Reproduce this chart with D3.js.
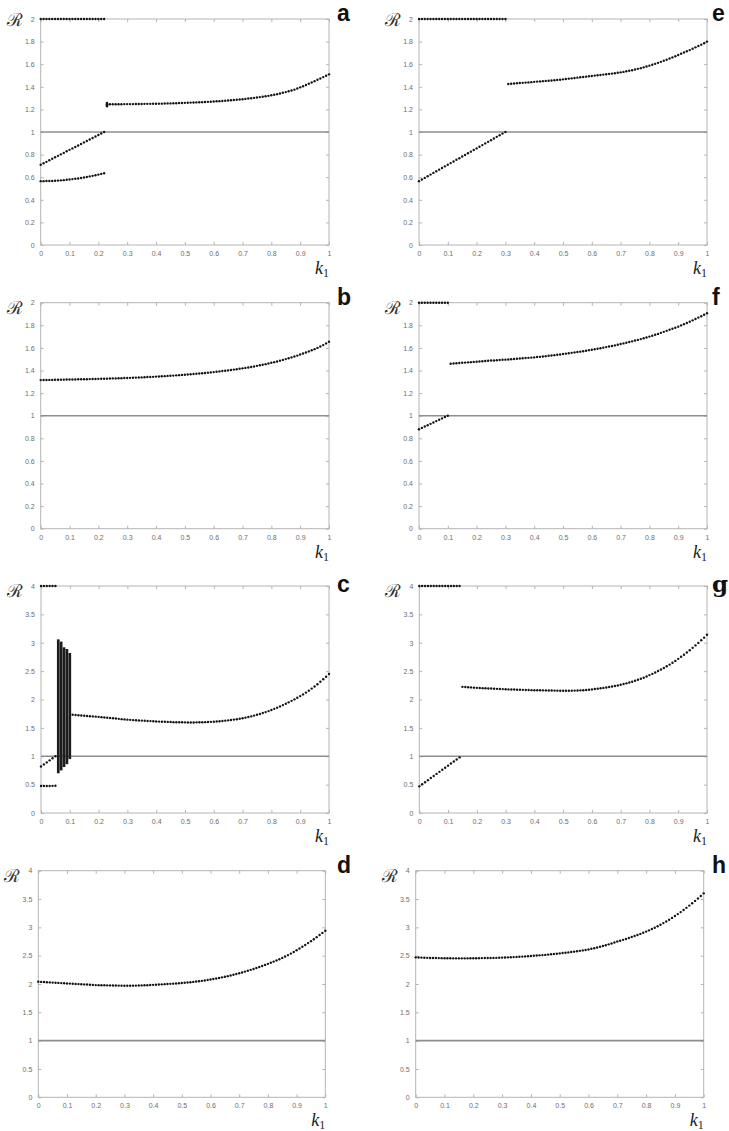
<!DOCTYPE html>
<html>
<head>
<meta charset="utf-8">
<script src="https://cdn.jsdelivr.net/npm/d3@7"></script>
<style>
  body { margin: 0; background: #fff; }
  svg { display: block; }
</style>
</head>
<body>
<script>
// k1 step between dots
var k1Step = 0.01;

var xTicks = [0, 0.1, 0.2, 0.3, 0.4, 0.5, 0.6, 0.7, 0.8, 0.9, 1];
var xTickLabels = ["0", "0.1", "0.2", "0.3", "0.4", "0.5", "0.6", "0.7", "0.8", "0.9", "1"];
var yTicks2 = [0, 0.2, 0.4, 0.6, 0.8, 1, 1.2, 1.4, 1.6, 1.8, 2];
var yTickLabels2 = ["0", "0.2", "0.4", "0.6", "0.8", "1", "1.2", "1.4", "1.6", "1.8", "2"];
var yTicks4 = [0, 0.5, 1, 1.5, 2, 2.5, 3, 3.5, 4];
var yTickLabels4 = ["0", "0.5", "1", "1.5", "2", "2.5", "3", "3.5", "4"];

// panel a  (each series starts at the k1 given in the name comment)
var a_top = [2,2,2,2,2,2,2,2,2,2,2,2,2,2,2,2,2,2,2,2,2,2,2];           // k1 0..0.22
var a_rise = [0.710,0.723,0.736,0.750,0.763,0.776,0.789,0.802,0.815,0.829,0.842,0.855,
  0.868,0.881,0.894,0.908,0.921,0.934,0.947,0.960,0.973,0.987,1.000];  // k1 0..0.22
var a_low = [0.565,0.565,0.566,0.566,0.567,0.569,0.570,0.572,0.574,0.577,0.579,0.583,
  0.586,0.589,0.593,0.598,0.602,0.607,0.612,0.617,0.623,0.629,0.635];  // k1 0..0.22
var a_jump = [1.228,1.236,1.244,1.252,1.258];                        // k1 0.23
var a_right = [1.245,1.245,1.245,1.246,1.246,1.246,1.247,1.247,
  1.247,1.247,1.248,1.248,1.248,1.249,1.249,1.249,1.250,1.250,
  1.251,1.251,1.252,1.253,1.253,1.254,1.255,1.256,1.257,1.258,
  1.259,1.260,1.261,1.262,1.263,1.264,1.265,1.267,1.268,1.270,
  1.272,1.273,1.275,1.277,1.279,1.281,1.283,1.285,1.288,1.290,
  1.293,1.296,1.299,1.302,1.305,1.309,1.312,1.316,1.320,1.325,
  1.330,1.335,1.341,1.347,1.353,1.360,1.367,1.375,1.385,1.395,
  1.405,1.416,1.427,1.438,1.450,1.462,1.474,1.486,1.498,1.510];     // k1 0.23..1

// panel b
var b_curve = [1.315,1.316,1.316,1.317,1.317,1.318,1.318,1.319,1.319,1.320,
  1.320,1.321,1.321,1.322,1.322,1.323,1.323,1.324,1.325,1.325,
  1.326,1.327,1.327,1.328,1.329,1.330,1.330,1.331,1.332,1.333,
  1.334,1.335,1.336,1.337,1.338,1.339,1.340,1.342,1.343,1.344,
  1.346,1.347,1.349,1.350,1.352,1.353,1.355,1.357,1.359,1.361,
  1.363,1.365,1.367,1.369,1.371,1.373,1.376,1.378,1.381,1.383,
  1.386,1.389,1.392,1.395,1.398,1.401,1.404,1.408,1.411,1.415,
  1.419,1.423,1.427,1.431,1.436,1.441,1.446,1.451,1.456,1.462,
  1.468,1.474,1.480,1.487,1.494,1.501,1.508,1.516,1.524,1.532,
  1.541,1.550,1.559,1.569,1.579,1.589,1.600,1.612,1.625,1.640,
  1.655];                                                            // k1 0..1

// panel c
var c_top = [4,4,4,4,4,4];                                           // k1 0..0.05
var c_rise = [0.820,0.856,0.892,0.928,0.964,1.000];                  // k1 0..0.05
var c_low = [0.475,0.475,0.476,0.477,0.478,0.480];                   // k1 0..0.05
var c_bandK = [0.06, 0.07, 0.08, 0.09, 0.10];
var c_bandMin = [0.70, 0.75, 0.81, 0.86, 0.95];
var c_bandMax = [3.06, 3.02, 2.92, 2.89, 2.82];
var c_right = [1.730,1.726,1.722,1.718,1.714,1.710,1.706,1.702,1.698,1.694,
  1.689,1.684,1.679,1.674,1.669,1.664,1.659,1.654,1.649,1.645,
  1.641,1.637,1.634,1.631,1.628,1.625,1.622,1.619,1.616,1.613,
  1.611,1.609,1.607,1.605,1.603,1.601,1.600,1.599,1.598,1.597,
  1.596,1.596,1.596,1.597,1.598,1.599,1.601,1.603,1.606,1.609,
  1.613,1.617,1.622,1.627,1.633,1.639,1.646,1.653,1.661,1.670,
  1.680,1.691,1.703,1.716,1.730,1.745,1.761,1.778,1.796,1.815,
  1.835,1.856,1.878,1.901,1.925,1.950,1.976,2.003,2.031,2.060,
  2.090,2.122,2.156,2.192,2.230,2.270,2.312,2.356,2.402,2.450];     // k1 0.11..1

// panel d
var d_curve = [2.040,2.037,2.034,2.031,2.028,2.025,2.022,2.019,2.016,2.013,
  2.010,2.007,2.004,2.001,1.998,1.995,1.993,1.990,1.987,1.984,
  1.981,1.980,1.978,1.977,1.976,1.975,1.974,1.973,1.972,1.971,
  1.970,1.970,1.970,1.971,1.972,1.973,1.975,1.977,1.979,1.982,
  1.985,1.988,1.991,1.994,1.997,2.000,2.003,2.006,2.009,2.013,
  2.017,2.021,2.026,2.031,2.037,2.043,2.049,2.056,2.063,2.071,
  2.079,2.088,2.097,2.107,2.117,2.128,2.139,2.151,2.163,2.176,
  2.190,2.204,2.219,2.234,2.250,2.266,2.283,2.300,2.318,2.337,
  2.356,2.375,2.395,2.416,2.438,2.461,2.485,2.510,2.537,2.566,
  2.596,2.626,2.657,2.689,2.722,2.756,2.791,2.827,2.864,2.902,
  2.941];                                                            // k1 0..1

// panel e
var e_top = [2,2,2,2,2,2,2,2,2,2,2,2,2,2,2,2,2,2,2,2,2,2,2,2,2,2,2,2,2,2,2]; // k1 0..0.30
var e_rise = [0.565,0.580,0.594,0.609,0.623,0.638,0.652,0.667,0.681,0.696,0.710,
  0.725,0.739,0.754,0.768,0.783,0.797,0.812,0.826,0.841,0.855,
  0.870,0.884,0.899,0.913,0.928,0.942,0.957,0.971,0.986,1.000];      // k1 0..0.30
var e_right = [1.425,1.427,1.429,1.431,1.433,1.435,1.437,1.439,1.441,1.444,
  1.446,1.448,1.450,1.452,1.454,1.456,1.458,1.461,1.463,1.466,
  1.469,1.472,1.475,1.478,1.481,1.484,1.487,1.490,1.493,1.496,
  1.499,1.502,1.505,1.508,1.511,1.514,1.517,1.520,1.524,1.528,
  1.532,1.537,1.542,1.547,1.553,1.559,1.565,1.572,1.579,1.587,
  1.595,1.603,1.612,1.621,1.630,1.640,1.650,1.660,1.670,1.681,
  1.692,1.703,1.714,1.725,1.737,1.749,1.761,1.773,1.786,1.800];     // k1 0.31..1

// panel f
var f_top = [2,2,2,2,2,2,2,2,2,2,2];                                 // k1 0..0.10
var f_rise = [0.880,0.892,0.904,0.916,0.928,0.940,0.952,0.964,0.976,0.988,1.000]; // k1 0..0.10
var f_right = [1.460,1.462,1.464,1.466,1.468,1.470,1.472,1.474,1.476,1.478,
  1.480,1.482,1.484,1.486,1.488,1.489,1.491,1.493,1.495,1.496,
  1.498,1.500,1.502,1.504,1.506,1.508,1.510,1.512,1.514,1.516,
  1.519,1.521,1.524,1.527,1.530,1.533,1.536,1.539,1.542,1.546,
  1.549,1.553,1.556,1.560,1.564,1.567,1.571,1.575,1.580,1.584,
  1.588,1.593,1.597,1.602,1.607,1.612,1.617,1.622,1.628,1.634,
  1.640,1.646,1.652,1.658,1.665,1.671,1.678,1.685,1.692,1.700,
  1.708,1.716,1.724,1.733,1.742,1.751,1.760,1.769,1.778,1.788,
  1.799,1.810,1.821,1.832,1.844,1.856,1.868,1.880,1.893,1.906];     // k1 0.11..1

// panel g
var g_top = [4,4,4,4,4,4,4,4,4,4,4,4,4,4,4];                         // k1 0..0.14
var g_rise = [0.470,0.506,0.543,0.579,0.616,0.652,0.689,0.725,0.761,0.798,
  0.834,0.871,0.907,0.944,0.980];                                    // k1 0..0.14
var g_right = [2.223,2.220,2.216,2.213,2.209,2.205,
  2.203,2.200,2.198,2.195,2.193,2.190,2.188,2.185,2.183,2.180,
  2.178,2.176,2.175,2.173,2.171,2.170,2.168,2.167,2.165,2.164,
  2.163,2.162,2.161,2.160,2.159,2.158,2.157,2.156,2.155,2.154,
  2.154,2.155,2.156,2.157,2.159,2.161,2.164,2.168,2.172,2.178,
  2.184,2.190,2.197,2.204,2.212,2.220,2.229,2.238,2.248,2.260,
  2.272,2.285,2.299,2.314,2.330,2.347,2.365,2.384,2.405,2.430,
  2.452,2.476,2.501,2.528,2.556,2.585,2.615,2.647,2.680,2.716,
  2.752,2.789,2.828,2.868,2.910,2.953,2.997,3.043,3.090,3.140];     // k1 0.15..1

// panel h
var h_curve = [2.470,2.468,2.466,2.464,2.462,2.460,2.459,2.458,2.457,2.456,
  2.455,2.454,2.454,2.453,2.453,2.453,2.453,2.453,2.453,2.454,
  2.454,2.455,2.456,2.457,2.458,2.459,2.460,2.461,2.462,2.464,
  2.466,2.468,2.470,2.472,2.475,2.478,2.481,2.484,2.487,2.490,
  2.494,2.498,2.502,2.506,2.510,2.514,2.519,2.524,2.529,2.534,
  2.540,2.546,2.552,2.558,2.564,2.571,2.578,2.585,2.593,2.601,
  2.610,2.621,2.632,2.644,2.657,2.671,2.685,2.700,2.716,2.732,
  2.750,2.764,2.779,2.795,2.812,2.829,2.847,2.865,2.884,2.904,
  2.925,2.947,2.970,2.994,3.020,3.047,3.075,3.104,3.135,3.167,
  3.200,3.234,3.269,3.306,3.344,3.384,3.425,3.467,3.510,3.554,
  3.600];                                                            // k1 0..1

var width = 729, height = 1131;

var svg = d3.select("body")
    .append("svg")
    .attr("width", width)
    .attr("height", height);

// panel frames in page pixels
var panels = [
  { id: "a", x0: 40.7, x1: 329, y0: 245, y1: 19, ymax: 2,
    series: [[0, a_top], [0, a_rise], [0, a_low], [0.23, a_right]], jump: [0.23, a_jump] },
  { id: "b", x0: 40.7, x1: 329, y0: 528.7, y1: 302.7, ymax: 2,
    series: [[0, b_curve]] },
  { id: "c", x0: 41, x1: 329, y0: 813, y1: 586, ymax: 4,
    series: [[0, c_top], [0, c_rise], [0, c_low], [0.11, c_right]], bands: true },
  { id: "d", x0: 38.3, x1: 325.3, y0: 1097.3, y1: 870.7, ymax: 4,
    series: [[0, d_curve]] },
  { id: "e", x0: 419, x1: 707, y0: 245, y1: 19, ymax: 2,
    series: [[0, e_top], [0, e_rise], [0.31, e_right]] },
  { id: "f", x0: 419, x1: 707, y0: 528.7, y1: 302.7, ymax: 2,
    series: [[0, f_top], [0, f_rise], [0.11, f_right]] },
  { id: "g", x0: 419.3, x1: 707, y0: 813, y1: 586, ymax: 4,
    series: [[0, g_top], [0, g_rise], [0.15, g_right]] },
  { id: "h", x0: 415.7, x1: 703.7, y0: 1097.3, y1: 870.7, ymax: 4,
    series: [[0, h_curve]] }
];

var axisColor = "#b4b4b4", labelColor = "#6e6e6e";

panels.forEach(function (p) {
    var x = d3.scaleLinear().domain([0, 1]).range([p.x0, p.x1]);
    var y = d3.scaleLinear().domain([0, p.ymax]).range([p.y0, p.y1]);
    var yTicks = p.ymax === 2 ? yTicks2 : yTicks4;
    var yLabels = p.ymax === 2 ? yTickLabels2 : yTickLabels4;

    var g = svg.append("g");

    // box
    g.append("rect")
        .attr("x", p.x0).attr("y", p.y1)
        .attr("width", p.x1 - p.x0).attr("height", p.y0 - p.y1)
        .attr("fill", "none").attr("stroke", axisColor).attr("stroke-width", 1);

    var bottom = g.append("g")
        .attr("transform", "translate(0," + p.y0 + ")")
        .call(d3.axisBottom(x).tickValues(xTicks).tickSize(-3).tickPadding(6)
            .tickFormat(function (d, i) { return xTickLabels[i]; }));
    var top = g.append("g")
        .attr("transform", "translate(0," + p.y1 + ")")
        .call(d3.axisTop(x).tickValues(xTicks).tickSize(-3).tickFormat(""));
    var left = g.append("g")
        .attr("transform", "translate(" + p.x0 + ",0)")
        .call(d3.axisLeft(y).tickValues(yTicks).tickSize(-3).tickPadding(6)
            .tickFormat(function (d, i) { return yLabels[i]; }));
    var right = g.append("g")
        .attr("transform", "translate(" + p.x1 + ",0)")
        .call(d3.axisRight(y).tickValues(yTicks).tickSize(-3).tickFormat(""));

    [bottom, top, left, right].forEach(function (ax) {
        ax.select(".domain").remove();
        ax.selectAll(".tick line").attr("stroke", axisColor);
        ax.selectAll(".tick text")
            .attr("fill", labelColor)
            .style("font-family", "'Liberation Sans', Arial, sans-serif")
            .style("font-size", "7px");
    });

    // R = 1 reference line
    g.append("line")
        .attr("x1", x(0)).attr("x2", x(1))
        .attr("y1", y(1)).attr("y2", y(1))
        .attr("stroke", "#8e8e8e").attr("stroke-width", 1.6);

    // chaotic bands (panel c)
    if (p.bands) {
        g.selectAll(".band")
            .data(c_bandK)
            .enter().append("rect")
            .attr("x", function (d) { return x(d) - 1.35; })
            .attr("width", 2.7)
            .attr("y", function (d, i) { return y(c_bandMax[i]); })
            .attr("height", function (d, i) { return y(c_bandMin[i]) - y(c_bandMax[i]); })
            .attr("fill", "#1c1c1c");
    }

    // dotted branches
    var pts = [];
    p.series.forEach(function (s) {
        s[1].forEach(function (v, i) {
            pts.push({ k: Math.round(s[0] * 100 + i) * k1Step, r: v });
        });
    });
    if (p.jump) {
        p.jump[1].forEach(function (v) { pts.push({ k: p.jump[0], r: v }); });
    }
    g.selectAll(".pt")
        .data(pts)
        .enter().append("circle")
        .attr("cx", function (d) { return x(d.k); })
        .attr("cy", function (d) { return y(d.r); })
        .attr("r", 1.2)
        .attr("fill", "#151515");

    // axis titles
    g.append("text")
        .attr("x", p.x0 - 34)
        .attr("y", p.y1 + (p.id === "a" || p.id === "e" ? 7 : 11))
        .style("font-family", "'DejaVu Serif', serif")
        .style("font-size", "18px")
        .attr("fill", "#333")
        .text("\u211B");

    var kt = g.append("text")
        .attr("x", p.x1)
        .attr("y", p.y0 + 29)
        .attr("text-anchor", "end")
        .attr("fill", "#222")
        .style("font-family", "'Liberation Serif', 'DejaVu Serif', serif")
        .style("font-size", "18px");
    kt.append("tspan").style("font-style", "italic").text("k");
    kt.append("tspan").attr("dy", 3).style("font-size", "12px").text("1");

    // panel letter
    g.append("text")
        .attr("x", p.x0 < 100 ? 337 : 712)
        .attr("y", p.y1 + (p.id === "c" || p.id === "g" ? 6 : 2))
        .style("font-family", p.id === "g" ? "'DejaVu Serif', serif" : "'Liberation Sans', Arial, sans-serif")
        .style("font-weight", "bold")
        .style("font-size", "23px")
        .attr("fill", "#111")
        .text(p.id);
});
</script>
</body>
</html>
